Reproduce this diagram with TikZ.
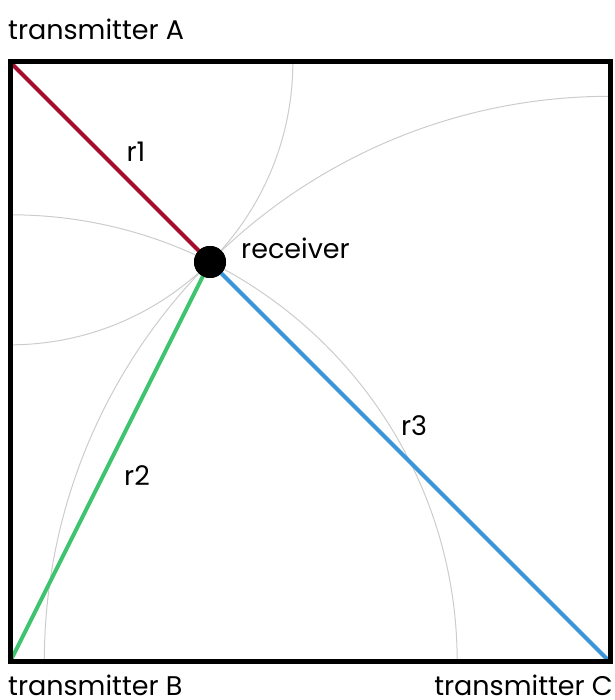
\documentclass[tikz,border=0pt]{standalone}
\usepackage{fontspec}
\setmainfont{Poppins}
\definecolor{rone}{HTML}{A50F2D}
\definecolor{rtwo}{HTML}{3DC46E}
\definecolor{rthree}{HTML}{3A96D8}
\definecolor{arcgray}{HTML}{CCCCCC}
\begin{document}
\begin{tikzpicture}[x=1pt,y=1pt,
  lbl/.style={inner sep=0pt,font=\fontsize{27}{30}\selectfont},
  rayline/.style={line width=4pt},
  circ/.style={draw=arcgray,line width=1pt}]
\useasboundingbox (0,0) rectangle (614,700);
\coordinate (A) at (10,638);
\coordinate (B) at (10,38);
\coordinate (C) at (610,38);
\node[circle,fill=black,minimum size=32pt,inner sep=0pt] (R) at (210,438) {};
\begin{scope}
  \clip (A) rectangle (C);
  \draw[circ] (A) circle[radius=282.84];
  \draw[circ] (B) circle[radius=447.21];
  \draw[circ] (C) circle[radius=565.69];
\end{scope}
\draw[rayline,rone] (A) -- (R.center);
\draw[rayline,rtwo] (B) -- (R.center);
\draw[rayline,rthree] (C) -- (R.center);
\draw[line width=5pt] (A) rectangle (C);
\node[circle,fill=black,minimum size=32pt,inner sep=0pt] at (R) {};
\node[lbl,anchor=base west] (ta) at (8,660) {transmitter A};
\node[lbl,anchor=base west] (tb) at (8,5) {transmitter B};
\node[lbl,anchor=base east] (tc) at (613,5) {transmitter C};
\node[lbl,anchor=base west] (rl) at (241,441) {receiver};
\node[lbl] (l1) at (136,548) {r1};
\node[lbl] (l2) at (137,224) {r2};
\node[lbl] (l3) at (414,274) {r3};
\end{tikzpicture}
\end{document}
